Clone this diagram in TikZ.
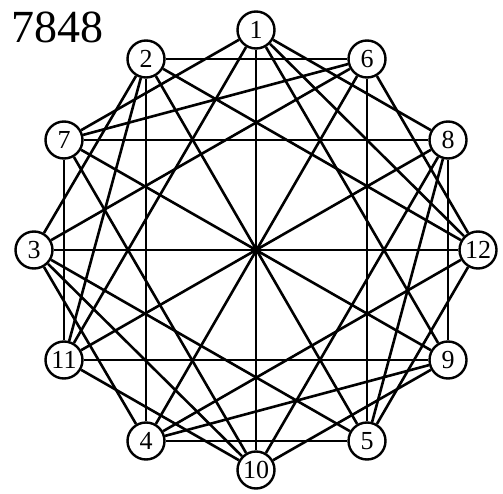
\documentclass[tikz,border=0pt]{standalone}
\usepackage{fontspec}
\setmainfont{Liberation Serif}
\usetikzlibrary{backgrounds}
\begin{document}
\begin{tikzpicture}[x=1pt,y=-1pt,
  vtx/.style={circle,draw,line width=2.4pt,fill=white,minimum size=37pt,inner sep=0pt,font=\fontsize{26}{26}\selectfont},
  edge/.style={line width=2.6pt}]
\useasboundingbox (0,0) rectangle (503,494);
\node[anchor=base west,inner sep=0pt,font=\fontsize{46}{46}\selectfont] (title) at (11,43) {7848};
\foreach \n/\x/\y in {1/256/30,6/367/59,8/448/140,12/478/250,9/448/360,5/367/441,10/256/470,4/146/441,11/64/360,3/34/250,7/64/140,2/146/59}{
  \node[vtx] (v\n) at (\x,\y) {\n};
}
\begin{pgfonlayer}{background}
\foreach \a/\b in {2/3,2/4,2/5,2/6,2/12,3/4,3/5,3/6,3/12,4/5,4/6,4/12,5/6,5/12,6/12,
  1/7,1/8,1/9,1/10,1/11,7/8,7/9,7/10,7/11,8/9,8/10,8/11,9/10,9/11,10/11,
  1/12,2/11,3/10,4/9,5/8,6/7}{
  \draw[edge] (v\a) -- (v\b);
}
\end{pgfonlayer}
\end{tikzpicture}
\end{document}
